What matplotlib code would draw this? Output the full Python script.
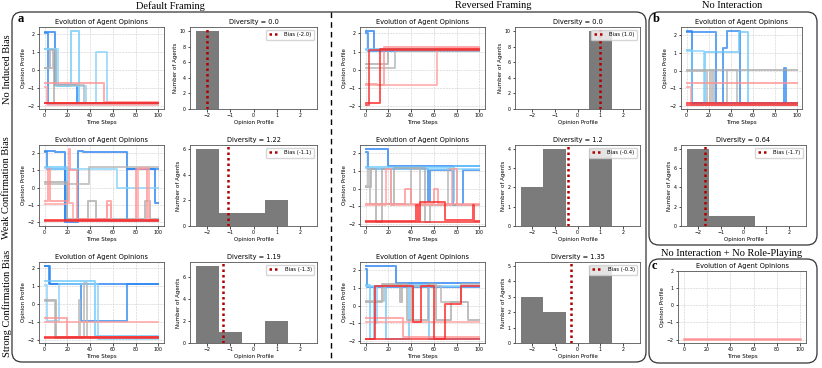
import matplotlib
matplotlib.use("Agg")
import matplotlib.pyplot as plt
from matplotlib.patches import FancyBboxPatch
from matplotlib.ticker import MaxNLocator
import numpy as np

# Trajectoires des agents : points de changement (pas de temps, opinion)
# ordre des agents : 2 bleus foncés, 2 bleus clairs, 2 gris, 2 rouges clairs, 2 rouges
default_none = [
    [(0, 2.15), (9, -0.8), (28, -1.85)],
    [(0, 2.1), (3, -1.9)],
    [(0, 1.2), (10, -0.85), (23, 2.2), (30, -1.9)],
    [(0, 1.2), (12, -0.85), (36, -1.9), (45, 1.0), (55, -1.9)],
    [(0, 0.1), (5, 1.1), (8, -1.9)],
    [(0, 0.15), (7, 1.05), (10, -0.8), (35, -1.85)],
    [(0, -0.7), (52, -1.75)],
    [(0, -0.95), (2, -1.95)],
    [(0, -1.8)],
    [(0, -1.85)],
]
reversed_none = [
    [(0, 2.15), (7, 1.1)],
    [(0, 2.05), (2, 1.05)],
    [(0, 1.15)],
    [(0, 1.1)],
    [(0, 0.3), (20, 1.1)],
    [(0, 0.1), (26, 1.05)],
    [(0, -0.8), (10, -0.85), (16, 1.25)],
    [(0, -0.85), (63, 1.2)],
    [(0, -1.8), (13, 1.15)],
    [(0, -1.95), (3, 1.1)],
]
nointer_none = [
    [(0, 2.25), (5, -1.85)],
    [(0, 2.2), (27, -1.8), (33, 1.25), (37, 2.25), (49, -1.8), (89, 0.15), (90, -1.8)],
    [(0, 1.15), (5, -1.9), (17, 1.05), (48, 2.2), (56, -1.9)],
    [(0, 1.1), (16, -1.85)],
    [(0, 0.05)],
    [(0, 0.0), (19, -1.9), (21, 0.05), (23, -1.9), (24, 0.05), (25, -1.9), (37, 0.05), (46, -1.9)],
    [(0, -0.7)],
    [(0, -0.9), (4, -1.95)],
    [(0, -1.8)],
    [(0, -1.95)],
]
default_weak = [
    [(0, 2.1), (9, 2.05), (18, -2.0), (29, 2.1), (34, 2.05), (72, 1.1), (97, -0.9)],
    [(0, 2.05), (2, 1.05), (18, -1.9), (28, -1.85), (72, 1.05)],
    [(0, 1.2), (20, -1.9)],
    [(0, 1.15), (5, 1.05), (64, 0.0)],
    [(0, 0.3), (20, -1.8), (38, -0.75), (45, -1.8), (88, -0.75), (93, -1.8)],
    [(0, 0.2), (39, 1.2)],
    [(0, -0.75), (3, 1.05), (5, -0.75), (21, 2.25), (22, 1.0), (28, -1.8), (55, -0.75), (58, -1.9), (80, 1.1), (90, -1.9)],
    [(0, -0.95), (20, -0.9), (25, -1.9), (55, -1.0), (58, -1.85), (82, 1.15), (92, -1.85)],
    [(0, -1.85)],
    [(0, -1.9)],
]
reversed_weak = [
    [(0, 2.25), (20, 1.25)],
    [(0, 2.05), (2, 1.1), (55, -0.7), (57, 1.05), (77, -0.95), (86, 1.05)],
    [(0, 1.2), (77, -0.7), (78, 1.25)],
    [(0, 1.15), (3, 1.1)],
    [(0, 0.1), (5, 1.1), (9, -1.9), (14, 1.1), (22, -0.9), (25, 1.15), (52, -1.9), (57, -0.9)],
    [(0, 0.15), (2, 1.1), (4, -0.85), (40, 1.1), (48, -0.9), (72, 1.1), (80, -0.9)],
    [(0, -0.85), (35, 0.0), (40, -0.85), (60, 0.0), (64, -0.85)],
    [(0, -0.95), (18, 1.1), (22, -0.95), (76, 1.1), (80, -0.95)],
    [(0, -1.8), (44, -0.9), (46, -1.8), (48, -0.75), (70, -1.75), (94, -0.9), (95, -1.8)],
    [(0, -1.9)],
]
default_strong = [
    [(0, 2.1), (4, 1.1)],
    [(0, 2.1), (5, 1.1), (32, -0.95), (72, 1.1)],
    [(0, 1.25), (44, -1.75)],
    [(0, 1.05), (2, -0.95), (13, 1.1), (47, -1.95)],
    [(0, 0.2), (10, -1.8)],
    [(0, 0.15), (9, -1.85), (30, 0.2), (31, -1.85), (35, 1.15), (37, -1.85)],
    [(0, -0.75), (20, -1.8)],
    [(0, -1.0)],
    [(0, -1.8)],
    [(0, -1.85)],
]
reversed_strong = [
    [(0, 2.25), (27, 1.25)],
    [(0, 2.05), (1, 1.05)],
    [(0, 1.15), (4, -1.9), (7, 1.1), (18, -1.9), (38, 1.15), (56, -1.9)],
    [(0, 1.1), (9, -1.0), (10, 1.1)],
    [(0, 0.2), (14, 1.2), (30, 0.2), (32, 1.2), (36, -0.8), (55, 1.2), (62, -0.8), (75, 0.2), (90, -0.8)],
    [(0, 0.25), (16, 1.15), (40, -0.8), (42, 1.1), (66, 0.2), (84, 1.2)],
    [(0, -0.7), (33, -1.75)],
    [(0, -0.95)],
    [(0, -1.9), (8, 1.1), (42, -0.95), (49, 1.1), (60, -1.9), (70, 0.1), (84, 1.1)],
    [(0, -1.9)],
]
norole_opinion = [(0, -1.95)]

# Histogrammes des opinions finales
opinion_bins = [-2, -1, 0, 1, 2]
counts_default_none = [10, 0, 0, 0, 0]
counts_reversed_none = [0, 0, 0, 10, 0]
counts_nointer = [8, 1, 1, 0, 0]
counts_default_weak = [6, 1, 1, 2, 0]
counts_reversed_weak = [2, 4, 0, 4, 0]
counts_default_strong = [7, 1, 0, 2, 0]
counts_reversed_strong = [3, 2, 0, 5, 0]

bias_values = {"default_none": -2.0, "reversed_none": 1.0, "nointer": -1.7,
               "default_weak": -1.1, "reversed_weak": -0.4,
               "default_strong": -1.3, "reversed_strong": -0.3}
diversity_values = {"default_none": 0.0, "reversed_none": 0.0, "nointer": 0.64,
                    "default_weak": 1.22, "reversed_weak": 1.2,
                    "default_strong": 1.19, "reversed_strong": 1.35}

agent_colors = ["#1f7ef2", "#2a86f0", "#6cc8fb", "#86d2fb", "#a8a8a8", "#b4b4b4",
                "#ff9090", "#ffa0a0", "#ff1f1f", "#f23030"]

plt.rcParams.update({
    "font.size": 4,
    "axes.linewidth": 0.6,
    "axes.edgecolor": "#555555",
    "axes.titlesize": 4.8,
    "axes.titlepad": 2.5,
    "axes.labelsize": 4,
    "axes.labelpad": 1.5,
    "xtick.labelsize": 3.4,
    "ytick.labelsize": 3.4,
    "xtick.major.size": 1.8,
    "ytick.major.size": 1.8,
    "xtick.major.width": 0.5,
    "ytick.major.width": 0.5,
    "xtick.major.pad": 1.2,
    "ytick.major.pad": 1.2,
})

W, H = 822, 368
fig = plt.figure(figsize=(W / 100, H / 100), dpi=100)


def px_axes(left, top, right, bottom):
    return fig.add_axes([left / W, 1 - bottom / H, (right - left) / W, (bottom - top) / H])


def draw_opinions(ax, agents):
    for i, pts in enumerate(agents):
        t = [p[0] for p in pts] + [100]
        v = [p[1] for p in pts] + [pts[-1][1]]
        ax.step(t, v, where="post", color=agent_colors[i], lw=1.4, alpha=0.75)
    ax.set_title("Evolution of Agent Opinions")
    ax.set_xlabel("Time Steps")
    ax.set_ylabel("Opinion Profile")
    ax.set_xticks(range(0, 101, 20))
    ax.set_yticks([-2, -1, 0, 1, 2])
    ax.grid(True, ls="--", lw=0.4, color="#cccccc")


def draw_hist(ax, counts, key):
    ax.hist(opinion_bins, bins=np.arange(-2.5, 3, 1), weights=counts, color="#7b7b7b")
    bias = bias_values[key]
    ax.axvline(bias, color="#b00000", ls=(0, (1, 1.2)), lw=1.8, label=f"Bias ({bias})")
    ax.set_title(f"Diversity = {diversity_values[key]}")
    ax.set_xlabel("Opinion Profile")
    ax.set_ylabel("Number of Agents")
    ax.set_xticks([-2, -1, 0, 1, 2])
    ax.yaxis.set_major_locator(MaxNLocator(nbins=6, integer=True))
    ax.legend(loc="upper right", fontsize=3.8, handlelength=2.2, borderpad=0.5,
              framealpha=0.8, edgecolor="#cccccc")


rows = [(27, 109), (145, 226), (262, 343)]
default_sets = [(default_none, counts_default_none, "default_none"),
                (default_weak, counts_default_weak, "default_weak"),
                (default_strong, counts_default_strong, "default_strong")]
reversed_sets = [(reversed_none, counts_reversed_none, "reversed_none"),
                 (reversed_weak, counts_reversed_weak, "reversed_weak"),
                 (reversed_strong, counts_reversed_strong, "reversed_strong")]

for (top, bottom), d, r in zip(rows, default_sets, reversed_sets):
    draw_opinions(px_axes(39, top, 164, bottom), d[0])
    draw_hist(px_axes(190, top, 317, bottom), d[1], d[2])
    draw_opinions(px_axes(360, top, 485, bottom), r[0])
    draw_hist(px_axes(515, top, 640, bottom), r[1], r[2])

# b : pas d'interaction
draw_opinions(px_axes(681, 27, 802, 109), nointer_none)
draw_hist(px_axes(681, 145, 806, 226), counts_nointer, "nointer")

# c : pas d'interaction + pas de jeu de rôle
ax_c = px_axes(678, 271, 806, 343)
ax_c.step([p[0] for p in norole_opinion] + [100], [p[1] for p in norole_opinion] + [norole_opinion[-1][1]],
          where="post", color="#ff8c8c", lw=1.8, alpha=0.9)
ax_c.set_title("Evolution of Agent Opinions")
ax_c.set_xlabel("Time Steps")
ax_c.set_ylabel("Opinion Profile")
ax_c.set_xticks(range(0, 101, 20))
ax_c.set_yticks([-2, -1, 0, 1, 2])
ax_c.set_ylim(-2.2, 2.0)
ax_c.grid(True, ls="--", lw=0.4, color="#cccccc")

# cadres, titres et lettres
ov = fig.add_axes([0, 0, 1, 1], zorder=10)
ov.set_xlim(0, W)
ov.set_ylim(H, 0)
ov.axis("off")
ov.patch.set_visible(False)

for x, y, w, h in [(12, 12, 634, 350), (649, 12, 168, 233), (649, 259, 168, 104)]:
    ov.add_patch(FancyBboxPatch((x, y), w, h, boxstyle="round,pad=0,rounding_size=10",
                                fill=False, ec="#333333", lw=0.9))
ov.plot([331, 331], [12, 362], ls=(0, (4, 3)), color="black", lw=1.0)

serif = "Liberation Serif"
ov.text(170, 6, "Default Framing", family=serif, fontsize=7.5, ha="center", va="center")
ov.text(493, 6, "Reversed Framing", family=serif, fontsize=7.5, ha="center", va="center")
ov.text(732, 6, "No Interaction", family=serif, fontsize=7.5, ha="center", va="center")
ov.text(732, 253, "No Interaction + No Role-Playing", family=serif, fontsize=7.5, ha="center", va="center")

ov.text(7, 69, "No Induced Bias", family=serif, fontsize=7.5, rotation=90, ha="center", va="center")
ov.text(7, 188, "Weak Confirmation Bias", family=serif, fontsize=7.5, rotation=90, ha="center", va="center")
ov.text(7, 303, "Strong Confirmation Bias", family=serif, fontsize=7.5, rotation=90, ha="center", va="center")

ov.text(21, 19, "a", family=serif, fontsize=9, weight="bold", ha="center", va="center")
ov.text(656, 19, "b", family=serif, fontsize=9, weight="bold", ha="center", va="center")
ov.text(654, 266, "c", family=serif, fontsize=9, weight="bold", ha="center", va="center")

fig.savefig("out.png", dpi=100)
